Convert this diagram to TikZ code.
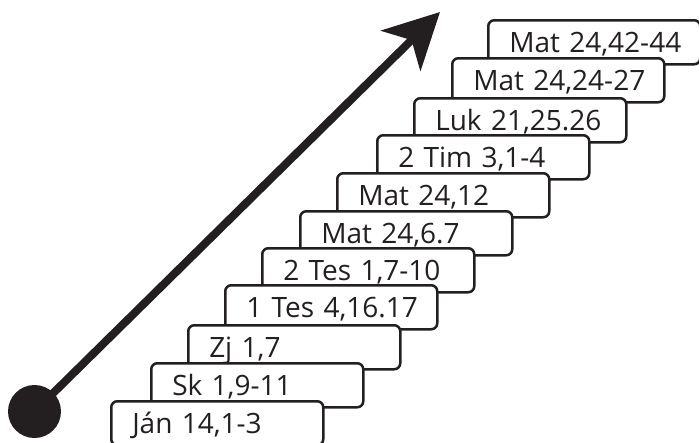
\documentclass[tikz,border=0pt]{standalone}
\usepackage{fontspec}
\setmainfont{Open Sans}
\usepackage{xcolor}
\usetikzlibrary{arrows.meta}
\definecolor{ink}{HTML}{231F20}
\begin{document}
\begin{tikzpicture}[x=1pt,y=-1pt,
    stepbox/.style={draw=ink,fill=white,line width=2.5pt,rounded corners=6pt,
      anchor=north west,text width=191pt,inner xsep=10.5pt,inner ysep=12pt,
      text height=20pt,text depth=0pt,align=left,text=ink,
      font=\fontsize{28}{30}\selectfont,execute at begin node=\hspace*{10.5pt}},
    dot/.style={circle,fill=ink,minimum size=53pt,inner sep=0pt}]
            \useasboundingbox (0,0) rectangle (699,442);
            \node[stepbox] (s11) at (487,19) {Mat 24,42-44};
            \node[stepbox] (s10) at (451,57) {Mat 24,24-27};
            \node[stepbox] (s9) at (413,97) {Luk 21,25.26};
            \node[stepbox] (s8) at (376,134) {2 Tim 3,1-4};
            \node[stepbox] (s7) at (336,172) {Mat 24,12};
            \node[stepbox] (s6) at (299,210) {Mat 24,6.7};
            \node[stepbox] (s5) at (261,247) {2 Tes 1,7-10};
            \node[stepbox] (s4) at (224,284) {1 Tes 4,16.17};
            \node[stepbox] (s3) at (187,324) {Zj 1,7};
            \node[stepbox] (s2) at (150,362) {Sk 1,9-11};
            \node[stepbox] (s1) at (110,400) {Ján 14,1-3};
            \node[dot] (start) at (34.5,411.5) {};
            \coordinate (tip) at (440,12);
              \draw[ink,line width=8pt,-{Stealth[length=55pt,width=56pt,inset=15pt]}] (start.center)--(tip);
            \end{tikzpicture}
\end{document}
